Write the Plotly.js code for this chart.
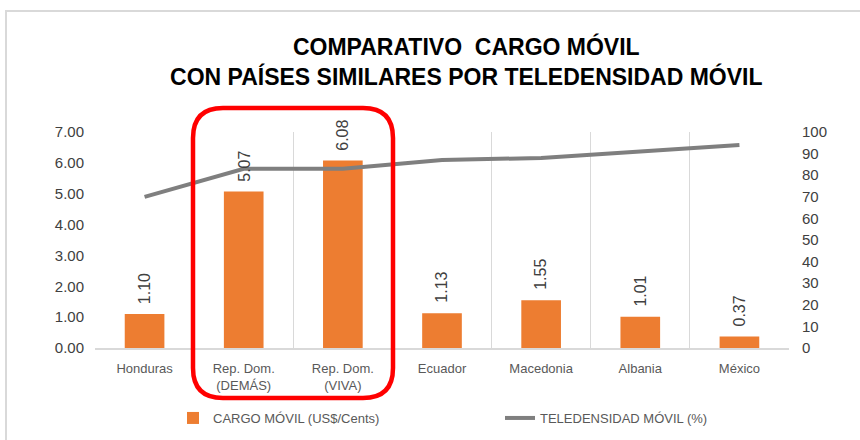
<!DOCTYPE html>
<html><head><meta charset="utf-8">
<script src="https://cdn.plot.ly/plotly-3.0.1.min.js"></script>
<style>
html,body{margin:0;padding:0;background:#fff;}
#wrap{position:relative;width:860px;height:440px;overflow:hidden;}
#chart{width:860px;height:440px;}
#frame{position:absolute;left:5px;top:10px;width:900px;height:480px;border:2px solid #d9d9d9;box-sizing:border-box;pointer-events:none;}
</style></head>
<body><div id="wrap"><div id="chart"></div><div id="frame"></div></div>
<script>
const categories = ['Honduras', 'Rep. Dom.<br>(DEMÁS)', 'Rep. Dom.<br>(VIVA)', 'Ecuador', 'Macedonia', 'Albania', 'México'];
const cargoMovil = [1.10, 5.07, 6.08, 1.13, 1.55, 1.01, 0.37];
const teledensidad = [70, 83, 83, 87, 88, 91, 94];
const leftTicks = [0, 1, 2, 3, 4, 5, 6, 7];
const rightTicks = [0, 10, 20, 30, 40, 50, 60, 70, 80, 90, 100];

const M = {l: 95, r: 71, t: 132, b: 92};
const W = 860 - M.l - M.r, H = 440 - M.t - M.b;
function px(x){ return (x - M.l) / W; }
function py(y){ return (440 - M.b - y) / H; }
function roundRect(x0, y0, x1, y1, r){
  const rx = r / W, ry = r / H;
  const a = px(x0), b = px(x1), top = py(y0), bot = py(y1);
  return `M${a+rx},${top} L${b-rx},${top} Q${b},${top} ${b},${top-ry} L${b},${bot+ry} Q${b},${bot} ${b-rx},${bot} L${a+rx},${bot} Q${a},${bot} ${a},${bot+ry} L${a},${top-ry} Q${a},${top} ${a+rx},${top} Z`;
}

const traces = [
  {type: 'bar', x: categories, y: cargoMovil, name: 'CARGO MÓVIL (US$/Cents)',
   marker: {color: '#ED7D31'}, hoverinfo: 'x+y'},
  {type: 'scatter', mode: 'lines', x: categories, y: teledensidad, yaxis: 'y2',
   name: 'TELEDENSIDAD MÓVIL (%)', line: {color: '#7F7F7F', width: 4}}
];

const annotations = categories.map((c, i) => ({
  x: c, y: cargoMovil[i], xref: 'x', yref: 'y', text: cargoMovil[i].toFixed(2),
  textangle: -90, showarrow: false, yanchor: 'bottom', yshift: 8,
  font: {family: 'Liberation Sans, Arial, sans-serif', size: 16, color: '#404040'}
}));

const layout = {
  width: 860, height: 440,
  margin: M,
  paper_bgcolor: '#fff', plot_bgcolor: '#fff',
  font: {family: 'Liberation Sans, Arial, sans-serif', color: '#404040'},
  title: {text: '<b>COMPARATIVO  CARGO MÓVIL<br>CON PAÍSES SIMILARES POR TELEDENSIDAD MÓVIL</b>',
    font: {family: 'Liberation Sans, Arial, sans-serif', size: 23, color: '#000'},
    x: 0.535, xref: 'paper', xanchor: 'center', y: 0.874, yref: 'container', yanchor: 'middle'},
  bargap: 0.6,
  showlegend: true,
  legend: {orientation: 'h', xref: 'container', yref: 'container', x: 173 / 860, xanchor: 'left',
    y: 1 - 418 / 440, yanchor: 'middle',
    entrywidth: 282, entrywidthmode: 'pixels',
    font: {size: 13, color: '#595959'}, bgcolor: 'rgba(0,0,0,0)'},
  xaxis: {type: 'category', tickson: 'boundaries', showgrid: true, gridcolor: '#d9d9d9', gridwidth: 1,
    showline: true, linecolor: '#d9d9d9', linewidth: 1.5, ticks: '', ticklabelstandoff: 8,
    tickfont: {size: 13, color: '#595959'}, fixedrange: true, automargin: false},
  yaxis: {range: [0, 7], tickvals: leftTicks, tickformat: '.2f', showgrid: false, zeroline: false,
    showline: false, ticks: '', tickfont: {size: 15, color: '#404040'}, ticklabelstandoff: 10, automargin: false},
  yaxis2: {range: [0, 100], tickvals: rightTicks, overlaying: 'y', side: 'right', showgrid: false,
    zeroline: false, showline: false, ticks: '', tickfont: {size: 15, color: '#404040'}, ticklabelstandoff: 12, automargin: false},
  annotations: annotations,
  shapes: [{type: 'path', xref: 'paper', yref: 'paper', path: roundRect(193, 108, 393, 398, 30),
    line: {color: '#FF0000', width: 4.5}, fillcolor: 'rgba(0,0,0,0)', layer: 'above'}]
};

Plotly.newPlot('chart', traces, layout, {displayModeBar: false, staticPlot: true});
</script></body></html>
